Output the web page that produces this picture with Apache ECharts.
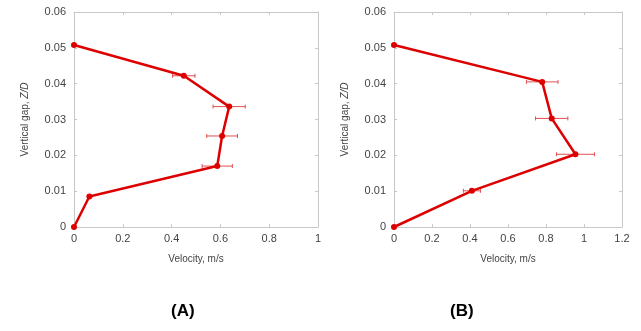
<!DOCTYPE html>
<html><head><meta charset="utf-8">
<script src="https://cdn.jsdelivr.net/npm/echarts@6/dist/echarts.min.js"></script>
<style>html,body{margin:0;padding:0;background:#fff}#c{width:641px;height:331px}</style>
</head><body><div id="c"></div>
<script>
// Panel A
const velA = [0, 0.063, 0.587, 0.607, 0.636, 0.45, 0];
const gapA = [0, 0.0085, 0.0170, 0.0254, 0.0336, 0.0422, 0.0508];
const errA = [0, 0, 0.062, 0.063, 0.066, 0.046, 0];
// Panel B
const velB = [0, 0.41, 0.955, 0.83, 0.78, 0];
const gapB = [0, 0.0101, 0.0203, 0.0303, 0.0405, 0.0508];
const errB = [0, 0.045, 0.1, 0.085, 0.083, 0];
const yTicks = [0, 0.01, 0.02, 0.03, 0.04, 0.05, 0.06];
const panelLabels = ['(A)', '(B)'];

const FONT = 'Liberation Sans, Arial, sans-serif';
const TXT = '#444';
const FRAME = '#c8c8c8';
const RED = '#dd0000';

function pts(v, g) { return v.map((x, i) => [x, g[i]]); }
function errPts(v, g, e) { return v.map((x, i) => [x, g[i], e[i]]).filter(d => d[2] > 0); }

const grids = [
  {left: 74, right: 323, top: 12, bottom: 104},
  {left: 394, right: 19, top: 12, bottom: 104}
];
const xMax = [1, 1.2];

const xAxis = [], yAxis = [];
[0, 1].forEach(gi => {
  xAxis.push({
    type: 'value', gridIndex: gi, min: 0, max: xMax[gi], interval: 0.2, position: 'bottom',
    name: 'Velocity, m/s', nameLocation: 'middle', nameGap: 27,
    nameTextStyle: {color: TXT, fontFamily: FONT, fontSize: 10},
    axisLine: {show: true, onZero: false, lineStyle: {color: FRAME, width: 1}},
    axisTick: {show: true, inside: true, length: 3, lineStyle: {color: FRAME}},
    axisLabel: {color: TXT, fontFamily: FONT, fontSize: 11, margin: 6},
    splitLine: {show: false}
  });
  xAxis.push({
    type: 'value', gridIndex: gi, min: 0, max: xMax[gi], interval: 0.2, position: 'top',
    axisLine: {show: true, onZero: false, lineStyle: {color: FRAME, width: 1}},
    axisTick: {show: true, inside: true, length: 3, lineStyle: {color: FRAME}},
    axisLabel: {show: false}, splitLine: {show: false}
  });
  yAxis.push({
    type: 'value', gridIndex: gi, min: 0, max: 0.06, interval: 0.01, position: 'left',
    name: '{n|Vertical gap, }{i|Z/D}', nameLocation: 'middle', nameGap: 44,
    nameTextStyle: {rich: {
      n: {color: TXT, fontFamily: FONT, fontSize: 10},
      i: {color: TXT, fontFamily: FONT, fontSize: 10, fontStyle: 'italic'}
    }},
    axisLine: {show: true, onZero: false, lineStyle: {color: FRAME, width: 1}},
    axisTick: {show: true, inside: true, length: 3, lineStyle: {color: FRAME}},
    axisLabel: {color: TXT, fontFamily: FONT, fontSize: 11, margin: 8},
    splitLine: {show: false}
  });
  yAxis.push({
    type: 'value', gridIndex: gi, min: 0, max: 0.06, interval: 0.01, position: 'right',
    axisLine: {show: true, onZero: false, lineStyle: {color: FRAME, width: 1}},
    axisTick: {show: true, inside: true, length: 3, lineStyle: {color: FRAME}},
    axisLabel: {show: false}, splitLine: {show: false}
  });
});

function errSeries(data, xi, yi) {
  return {
    type: 'custom', xAxisIndex: xi, yAxisIndex: yi, data: data, z: 1,
    renderItem: function (params, api) {
      const x = api.value(0), y = api.value(1), e = api.value(2);
      const p1 = api.coord([x - e, y]), p2 = api.coord([x + e, y]);
      const c = 2;
      return {type: 'group', children: [
        {type: 'line', shape: {x1: p1[0], y1: p1[1], x2: p2[0], y2: p2[1]}, style: {stroke: '#e05050', lineWidth: 1}},
        {type: 'line', shape: {x1: p1[0], y1: p1[1] - c, x2: p1[0], y2: p1[1] + c}, style: {stroke: '#e05050', lineWidth: 1}},
        {type: 'line', shape: {x1: p2[0], y1: p2[1] - c, x2: p2[0], y2: p2[1] + c}, style: {stroke: '#e05050', lineWidth: 1}}
      ]};
    }
  };
}
function lineSeries(data, xi, yi) {
  return {
    type: 'line', xAxisIndex: xi, yAxisIndex: yi, data: data, z: 3,
    symbol: 'circle', symbolSize: 6, clip: false,
    lineStyle: {color: RED, width: 2.5}, itemStyle: {color: RED}
  };
}

const option = {
  animation: false,
  grid: grids,
  xAxis: xAxis,
  yAxis: yAxis,
  graphic: [
    {type: 'text', left: 171, top: 303, style: {text: panelLabels[0], fontFamily: FONT, fontSize: 17, fontWeight: 'bold', fill: '#000'}},
    {type: 'text', left: 450, top: 303, style: {text: panelLabels[1], fontFamily: FONT, fontSize: 17, fontWeight: 'bold', fill: '#000'}}
  ],
  series: [
    errSeries(errPts(velA, gapA, errA), 0, 0),
    lineSeries(pts(velA, gapA), 0, 0),
    errSeries(errPts(velB, gapB, errB), 2, 2),
    lineSeries(pts(velB, gapB), 2, 2)
  ]
};
const chart = echarts.init(document.getElementById('c'), null, {renderer: 'canvas'});
chart.setOption(option);
</script></body></html>
